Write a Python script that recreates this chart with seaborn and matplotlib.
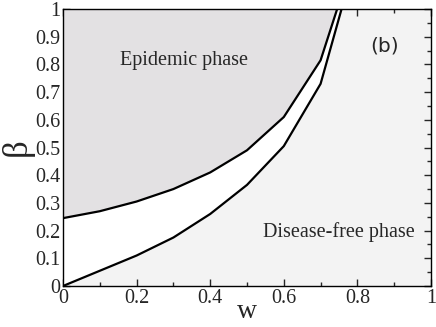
import matplotlib
matplotlib.use('Agg')
import matplotlib.pyplot as plt
import seaborn as sns
import numpy as np
import pandas as pd
from matplotlib.ticker import MultipleLocator, FixedFormatter, FixedLocator

# phase boundaries
w_upper = [0.0, 0.1, 0.2, 0.3, 0.4, 0.5, 0.6, 0.7, 0.745]
beta_upper = [0.245, 0.27, 0.305, 0.35, 0.41, 0.49, 0.61, 0.815, 1.0]
w_lower = [0.0, 0.1, 0.2, 0.3, 0.4, 0.5, 0.6, 0.7, 0.757]
beta_lower = [0.0, 0.055, 0.11, 0.175, 0.26, 0.365, 0.505, 0.73, 1.0]

x_ticks = [0, 0.2, 0.4, 0.6, 0.8, 1]
x_labels = ['0', '0.2', '0.4', '0.6', '0.8', '1']
y_ticks = [0, 0.1, 0.2, 0.3, 0.4, 0.5, 0.6, 0.7, 0.8, 0.9, 1]
y_labels = ['0', '0.1', '0.2', '0.3', '0.4', '0.5', '0.6', '0.7', '0.8', '0.9', '1']

sns.set_style('ticks')
plt.rcParams['font.family'] = ['Liberation Serif', 'DejaVu Serif']

fig = plt.figure(figsize=(4.36, 3.27), dpi=100)
ax = fig.add_axes([0.1445, 0.1254, 0.844, 0.847])

epi_color = '#e3e1e3'
free_color = '#f3f3f3'
ax.set_facecolor(free_color)

# epidemic region above upper boundary
ax.fill_between(w_upper, beta_upper, 1.0, color=epi_color, lw=0)
# white band between the two boundaries
ax.fill(np.concatenate([w_lower, w_upper[::-1]]),
        np.concatenate([beta_lower, beta_upper[::-1]]),
        color='white', lw=0)

df_up = pd.DataFrame({'w': w_upper, 'beta': beta_upper})
df_lo = pd.DataFrame({'w': w_lower, 'beta': beta_lower})
sns.lineplot(data=df_up, x='w', y='beta', ax=ax, color='black', lw=1.6, sort=False)
sns.lineplot(data=df_lo, x='w', y='beta', ax=ax, color='black', lw=1.6, sort=False)

ax.set_xlim(0, 1)
ax.set_ylim(0, 1)
ax.xaxis.set_major_locator(FixedLocator(x_ticks))
ax.xaxis.set_major_formatter(FixedFormatter(x_labels))
ax.xaxis.set_minor_locator(MultipleLocator(0.1))
ax.yaxis.set_major_locator(FixedLocator(y_ticks))
ax.yaxis.set_major_formatter(FixedFormatter(y_labels))
ax.yaxis.set_minor_locator(MultipleLocator(0.05))
ax.tick_params(which='both', direction='in', top=True, right=True, width=1, labelsize=14.5, pad=2)
ax.tick_params(which='major', length=5)
ax.tick_params(which='minor', length=3)
for s in ax.spines.values():
    s.set_linewidth(1)
    s.set_color('black')

ax.set_xlabel('w', fontsize=20, labelpad=-6)
ax.set_ylabel('β', fontsize=25, labelpad=1)

ax.text(0.155, 0.815, 'Epidemic phase', fontsize=14.5, va='center', ha='left')
ax.text(0.543, 0.195, 'Disease-free phase', fontsize=14.5, va='center', ha='left')
ax.text(0.835, 0.868, '(b)', fontsize=14.5, va='center', ha='left', family=['DejaVu Sans'])

fig.savefig('out.png', dpi=100)
